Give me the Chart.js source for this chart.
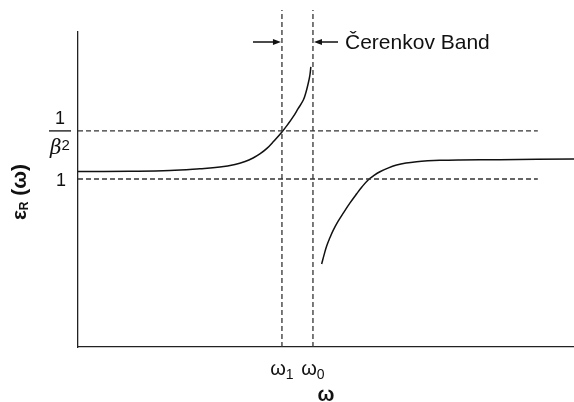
<!DOCTYPE html>
<html>
<head>
<meta charset="utf-8">
<script src="https://cdn.jsdelivr.net/npm/chart.js@4"></script>
<style>
  html, body { margin: 0; padding: 0; background: #fff; }
  #wrap { width: 574px; height: 402px; }
</style>
</head>
<body>
<div id="wrap"><canvas id="myChart"></canvas></div>
<script>
// omega in units of omega0, epsilon_R in plain units (1 = vacuum)
const leftOmega = [0, 0.221, 0.391, 0.519, 0.604, 0.668, 0.711, 0.745, 0.774, 0.804,
  0.834, 0.868, 0.894, 0.916, 0.936, 0.959, 0.97, 0.98, 0.987, 0.991];
const leftEps = [1.045, 1.046, 1.05, 1.061, 1.071, 1.086, 1.104, 1.125, 1.149, 1.182,
  1.226, 1.28, 1.327, 1.371, 1.417, 1.47, 1.515, 1.57, 1.619, 1.667];

const rightOmega = [1.037, 1.047, 1.058, 1.072, 1.086, 1.106, 1.129, 1.157, 1.186, 1.209,
  1.235, 1.26, 1.285, 1.319, 1.356, 1.396, 1.441, 1.489, 1.54, 1.626, 1.796, 2.111];
const rightEps = [0.494, 0.547, 0.6, 0.65, 0.694, 0.746, 0.797, 0.856, 0.912, 0.954,
  0.994, 1.021, 1.043, 1.065, 1.083, 1.095, 1.103, 1.108, 1.111, 1.113, 1.115, 1.119];

const omega1 = 0.868;
const omega0 = 1.0;
const epsOne = 1;
const epsBeta = 1.286; // 1 / beta^2

const dashEnd = 1.957;   // where the horizontal dashed lines stop
const bandTop = 2.006;   // vertical dashed lines go above the axis

const xTickValues = [omega1, omega0];
const xTickSubs = ["1", "0"];

const sans = '"Liberation Sans", Arial, Helvetica, sans-serif';

function toPoints(xs, ys) {
  return xs.map((x, i) => ({ x: x, y: ys[i] }));
}

function dashed(points) {
  return {
    data: points,
    borderColor: "#333",
    borderWidth: 1.3,
    borderDash: [5, 3],
    pointRadius: 0,
    tension: 0,
    clip: false,
  };
}

function curve(points) {
  return {
    data: points,
    borderColor: "#111",
    borderWidth: 1.5,
    pointRadius: 0,
    tension: 0.4,
  };
}

const labelPlugin = {
  id: "labels",
  afterDraw(chart) {
    const ctx = chart.ctx;
    const xs = chart.scales.x;
    const ys = chart.scales.y;
    ctx.save();
    ctx.fillStyle = "#111";
    ctx.strokeStyle = "#111";

    // y tick "1"
    ctx.font = "18px " + sans;
    ctx.textAlign = "center";
    ctx.textBaseline = "alphabetic";
    ctx.fillText("1", 61, ys.getPixelForValue(epsOne) + 7);

    // y tick 1/beta^2 as a fraction
    const yb = ys.getPixelForValue(epsBeta);
    ctx.fillText("1", 60, yb - 7);
    ctx.fillRect(49, yb - 0.7, 22, 1.3);
    ctx.textAlign = "left";
    ctx.font = "italic 20px 'DejaVu Serif', serif";
    const bw = ctx.measureText("β").width;
    ctx.font = "15px " + sans;
    const sw = ctx.measureText("2").width;
    const bx = 60 - (bw + sw) / 2;
    ctx.font = "italic 20px 'DejaVu Serif', serif";
    ctx.fillText("β", bx, yb + 23);
    ctx.font = "15px " + sans;
    ctx.fillText("2", bx + bw, yb + 19);

    // x ticks omega_1, omega_0
    xTickValues.forEach((v, i) => {
      const px = xs.getPixelForValue(v);
      ctx.font = "20px " + sans;
      const w = ctx.measureText("ω").width;
      ctx.font = "14px " + sans;
      const ws = ctx.measureText(xTickSubs[i]).width;
      const x0 = px - (w + ws) / 2;
      ctx.font = "20px " + sans;
      ctx.fillText("ω", x0, 375);
      ctx.font = "14px " + sans;
      ctx.fillText(xTickSubs[i], x0 + w, 379);
    });

    // x title
    ctx.font = "bold 20px " + sans;
    ctx.textAlign = "center";
    ctx.fillText("ω", (xs.left + xs.right) / 2, 401);

    // y title, rotated
    ctx.save();
    ctx.translate(26, 192);
    ctx.rotate(-Math.PI / 2);
    ctx.textAlign = "left";
    ctx.font = "bold 21px " + sans;
    const e = ctx.measureText("ε").width;
    const rest = ctx.measureText(" (ω)").width;
    ctx.font = "bold 12px " + sans;
    const r = ctx.measureText("R").width;
    let tx = -(e + r + rest) / 2;
    ctx.font = "bold 21px " + sans;
    ctx.fillText("ε", tx, 0);
    ctx.font = "bold 12px " + sans;
    ctx.fillText("R", tx + e, 2);
    ctx.font = "bold 21px " + sans;
    ctx.fillText(" (ω)", tx + e + r, 0);
    ctx.restore();

    // Cerenkov band arrows and label
    const x1 = xs.getPixelForValue(omega1);
    const x0 = xs.getPixelForValue(omega0);
    const ay = 42;
    ctx.lineWidth = 1.3;
    ctx.beginPath();
    ctx.moveTo(253, ay);
    ctx.lineTo(x1 - 6, ay);
    ctx.moveTo(x0 + 6, ay);
    ctx.lineTo(338, ay);
    ctx.stroke();
    ctx.beginPath();
    ctx.moveTo(x1 - 1, ay);
    ctx.lineTo(x1 - 9, ay - 3);
    ctx.lineTo(x1 - 9, ay + 3);
    ctx.closePath();
    ctx.moveTo(x0 + 1, ay);
    ctx.lineTo(x0 + 9, ay - 3);
    ctx.lineTo(x0 + 9, ay + 3);
    ctx.closePath();
    ctx.fill();

    ctx.font = "21px " + sans;
    ctx.textAlign = "left";
    ctx.fillText("Čerenkov Band", 345, 49);
    ctx.restore();
  },
};

new Chart(document.getElementById("myChart"), {
  type: "line",
  data: {
    datasets: [
      dashed([{ x: 0, y: epsBeta }, { x: dashEnd, y: epsBeta }]),
      dashed([{ x: 0, y: epsOne }, { x: dashEnd, y: epsOne }]),
      dashed([{ x: omega1, y: 0 }, { x: omega1, y: bandTop }]),
      dashed([{ x: omega0, y: 0 }, { x: omega0, y: bandTop }]),
      curve(toPoints(leftOmega, leftEps)),
      curve(toPoints(rightOmega, rightEps)),
    ],
  },
  options: {
    responsive: true,
    maintainAspectRatio: false,
    animation: false,
    layout: { padding: { top: 32, right: 0, bottom: 0, left: 0 } },
    plugins: {
      legend: { display: false },
      tooltip: { enabled: false },
    },
    scales: {
      x: {
        type: "linear",
        min: 0,
        max: 2.111,
        grid: { display: false, drawTicks: false },
        border: { display: true, color: "#222", width: 1.3 },
        ticks: { display: false },
        afterFit(scale) { scale.height = 55; },
      },
      y: {
        type: "linear",
        min: 0,
        max: 1.875,
        grid: { display: false, drawTicks: false },
        border: { display: true, color: "#222", width: 1.3 },
        ticks: { display: false },
        afterFit(scale) { scale.width = 78; },
      },
    },
  },
  plugins: [labelPlugin],
});
</script>
</body>
</html>
